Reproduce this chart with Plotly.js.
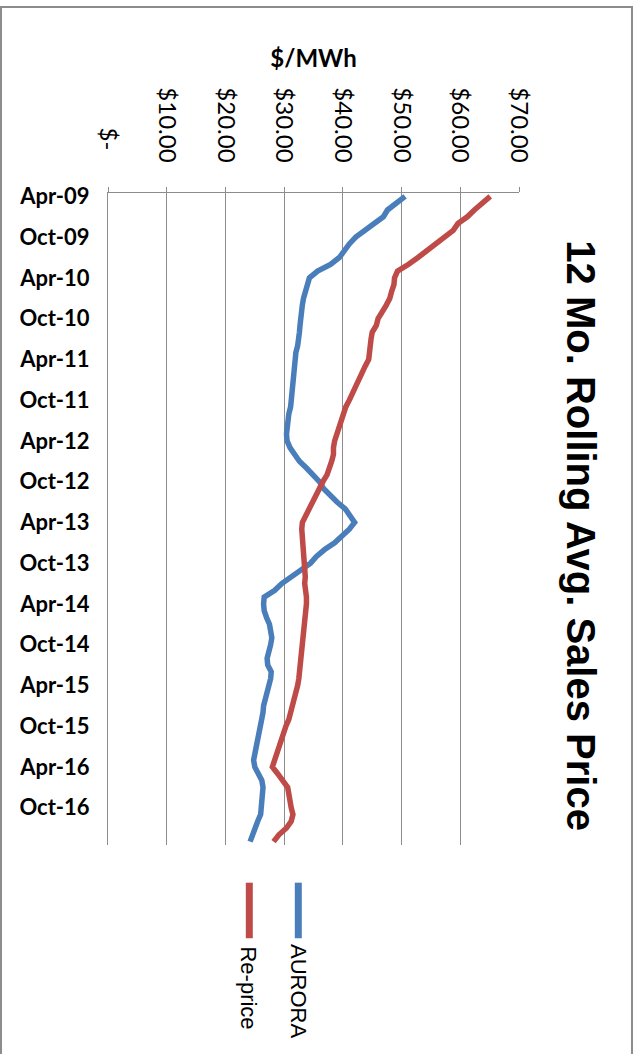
<!DOCTYPE html>
<html>
<head>
<meta charset="utf-8">
<script src="https://cdn.plot.ly/plotly-3.0.1.min.js"></script>
<style>
  html, body { margin: 0; padding: 0; background: #ffffff; }
  #chart { width: 637px; height: 1054px; }
</style>
</head>
<body>
<div id="chart"></div>
<script>
// ---- Data ----
const chartTitle = "12 Mo. Rolling Avg. Sales Price";
const valueAxisTitle = "$/MWh";

const months = [
  "Apr-09","May-09","Jun-09","Jul-09","Aug-09","Sep-09","Oct-09","Nov-09","Dec-09",
  "Jan-10","Feb-10","Mar-10","Apr-10","May-10","Jun-10","Jul-10","Aug-10","Sep-10","Oct-10","Nov-10","Dec-10",
  "Jan-11","Feb-11","Mar-11","Apr-11","May-11","Jun-11","Jul-11","Aug-11","Sep-11","Oct-11","Nov-11","Dec-11",
  "Jan-12","Feb-12","Mar-12","Apr-12","May-12","Jun-12","Jul-12","Aug-12","Sep-12","Oct-12","Nov-12","Dec-12",
  "Jan-13","Feb-13","Mar-13","Apr-13","May-13","Jun-13","Jul-13","Aug-13","Sep-13","Oct-13","Nov-13","Dec-13",
  "Jan-14","Feb-14","Mar-14","Apr-14","May-14","Jun-14","Jul-14","Aug-14","Sep-14","Oct-14","Nov-14","Dec-14",
  "Jan-15","Feb-15","Mar-15","Apr-15","May-15","Jun-15","Jul-15","Aug-15","Sep-15","Oct-15","Nov-15","Dec-15",
  "Jan-16","Feb-16","Mar-16","Apr-16","May-16","Jun-16","Jul-16","Aug-16","Sep-16","Oct-16","Nov-16","Dec-16",
  "Jan-17","Feb-17","Mar-17"
];

const monthTickLabels = [
  "Apr-09","Oct-09","Apr-10","Oct-10","Apr-11","Oct-11","Apr-12","Oct-12",
  "Apr-13","Oct-13","Apr-14","Oct-14","Apr-15","Oct-15","Apr-16","Oct-16"
];

const auroraValues = [
  50.6, 49.0, 47.6, 46.9, 45.3, 43.7, 42.2, 41.1, 40.3, 39.4, 37.9, 35.7,
  34.3, 33.9, 33.5, 33.3, 33.1, 32.9, 32.7, 32.7, 32.6, 32.5, 32.3, 32.0,
  31.9, 31.7, 31.6, 31.5, 31.4, 31.3, 31.3, 31.1, 30.8, 30.6, 30.4, 30.4,
  30.5, 31.0, 31.8, 32.6, 33.8, 35.0, 36.0, 36.7, 37.8, 39.0, 40.4, 41.2,
  42.0, 41.1, 39.8, 38.6, 36.9, 35.5, 34.5, 32.9, 31.0, 29.6, 28.4, 26.6,
  26.5, 26.6, 27.0, 27.5, 27.7, 27.9, 27.7, 27.4, 27.1, 27.2, 27.8, 27.7,
  27.4, 26.9, 26.7, 26.5, 26.4, 26.2, 26.0, 25.8, 25.6, 25.4, 25.1, 24.8,
  25.0, 25.6, 26.2, 26.4, 26.3, 26.2, 26.2, 26.0, 25.5, 25.0, 24.6, 24.2
];

const repriceValues = [
  65.1, 63.6, 62.4, 61.2, 59.6, 58.8, 57.3, 55.9, 54.6, 52.8, 51.2, 49.3,
  48.8, 48.7, 48.3, 48.0, 47.4, 46.7, 46.0, 45.7, 45.0, 44.8, 44.7, 44.6,
  44.4, 43.8, 43.3, 42.7, 42.2, 41.6, 41.1, 40.5, 40.1, 39.7, 39.2, 38.8,
  38.6, 38.4, 38.4, 38.1, 37.8, 37.3, 36.6, 36.0, 35.4, 34.8, 34.2, 33.5,
  33.1, 33.0, 33.1, 33.2, 33.3, 33.4, 33.5, 33.6, 33.6, 33.5, 33.7, 33.8,
  33.8, 33.7, 33.6, 33.5, 33.4, 33.3, 33.2, 33.1, 33.0, 32.8, 32.7, 32.5,
  32.3, 32.0, 31.7, 31.5, 31.1, 30.8, 30.3, 29.9, 29.6, 29.1, 28.7, 28.2,
  28.0, 28.9, 29.9, 30.6, 30.8, 30.9, 31.2, 31.5, 31.2, 30.4, 29.1, 28.2
];

const valueTickVals = [0, 10, 20, 30, 40, 50, 60, 70];
const valueTickText = ["$-\u00a0\u00a0", "$10.00", "$20.00", "$30.00", "$40.00", "$50.00", "$60.00", "$70.00"];

const seriesNames = ["AURORA", "Re-price"];
const seriesColors = ["#4a7ebb", "#be4b48"];

// ---- Chart ----
const traces = [
  {
    type: "scatter", mode: "lines", name: seriesNames[0],
    x: auroraValues, y: months,
    line: { color: seriesColors[0], width: 5.5 },
    hoverinfo: "x+y"
  },
  {
    type: "scatter", mode: "lines", name: seriesNames[1],
    x: repriceValues, y: months,
    line: { color: seriesColors[1], width: 5.5 },
    hoverinfo: "x+y"
  }
];

const gridGray = "#8c8c8c";

const layout = {
  width: 637,
  height: 1054,
  margin: { l: 108, r: 118, t: 193, b: 209, pad: 0 },
  paper_bgcolor: "#ffffff",
  plot_bgcolor: "#ffffff",
  showlegend: false,
  xaxis: {
    side: "top",
    range: [0, 70],
    tickmode: "array",
    tickvals: valueTickVals,
    ticktext: valueTickText,
    tickangle: 90,
    tickfont: { family: "Lato, 'Open Sans', sans-serif", size: 24, color: "#000000" },
    ticks: "outside",
    ticklen: 5,
    tickcolor: gridGray,
    ticklabelstandoff: 16,
    showgrid: true,
    gridcolor: gridGray,
    gridwidth: 1,
    zeroline: false,
    showline: true,
    linecolor: gridGray,
    linewidth: 1,
    fixedrange: true,
    title: {
      text: valueAxisTitle,
      font: { family: "Lato, 'Open Sans', sans-serif", size: 24, color: "#000000", weight: "bold" },
      standoff: 12
    }
  },
  yaxis: {
    type: "category",
    categoryorder: "array",
    categoryarray: months,
    range: [95.5, -0.5],
    tickmode: "array",
    tickvals: monthTickLabels,
    ticktext: monthTickLabels,
    tickfont: { family: "Lato, 'Open Sans', sans-serif", size: 22, color: "#000000", weight: "bold" },
    ticks: "",
    ticklabelstandoff: 13,
    showgrid: false,
    zeroline: false,
    showline: true,
    linecolor: gridGray,
    linewidth: 1,
    fixedrange: true
  },
  shapes: [
    // outer chart frame (left, top, right sides visible)
    { type: "path", xref: "paper", yref: "paper",
      path: "M -0.2603,-0.33 L -0.2603,1.2853 L 1.2749,1.2853 L 1.2749,-0.33",
      line: { color: "#8c8c8c", width: 2 } },
    // legend keys
    { type: "line", xref: "paper", yref: "paper",
      x0: 0.4630, x1: 0.4630, y0: -0.0578, y1: -0.1430,
      line: { color: seriesColors[0], width: 7 } },
    { type: "line", xref: "paper", yref: "paper",
      x0: 0.3438, x1: 0.3438, y0: -0.0578, y1: -0.1430,
      line: { color: seriesColors[1], width: 7 } }
  ],
  annotations: [
    { text: "<b>" + chartTitle + "</b>", xref: "paper", yref: "paper",
      x: 1.150, y: 0.4739, xanchor: "center", yanchor: "middle",
      textangle: 90, showarrow: false,
      font: { family: "'Liberation Sans', Arial, sans-serif", size: 40, color: "#000000" } },
    { text: seriesNames[0], xref: "paper", yref: "paper",
      x: 0.4647, y: -0.2240, xanchor: "center", yanchor: "middle",
      textangle: 90, showarrow: false,
      font: { family: "'Liberation Sans', Arial, sans-serif", size: 22, color: "#000000" } },
    { text: seriesNames[1], xref: "paper", yref: "paper",
      x: 0.3430, y: -0.2200, xanchor: "center", yanchor: "middle",
      textangle: 90, showarrow: false,
      font: { family: "'Liberation Sans', Arial, sans-serif", size: 22, color: "#000000" } }
  ]
};

Plotly.newPlot("chart", traces, layout, { displayModeBar: false, staticPlot: true });
</script>
</body>
</html>
